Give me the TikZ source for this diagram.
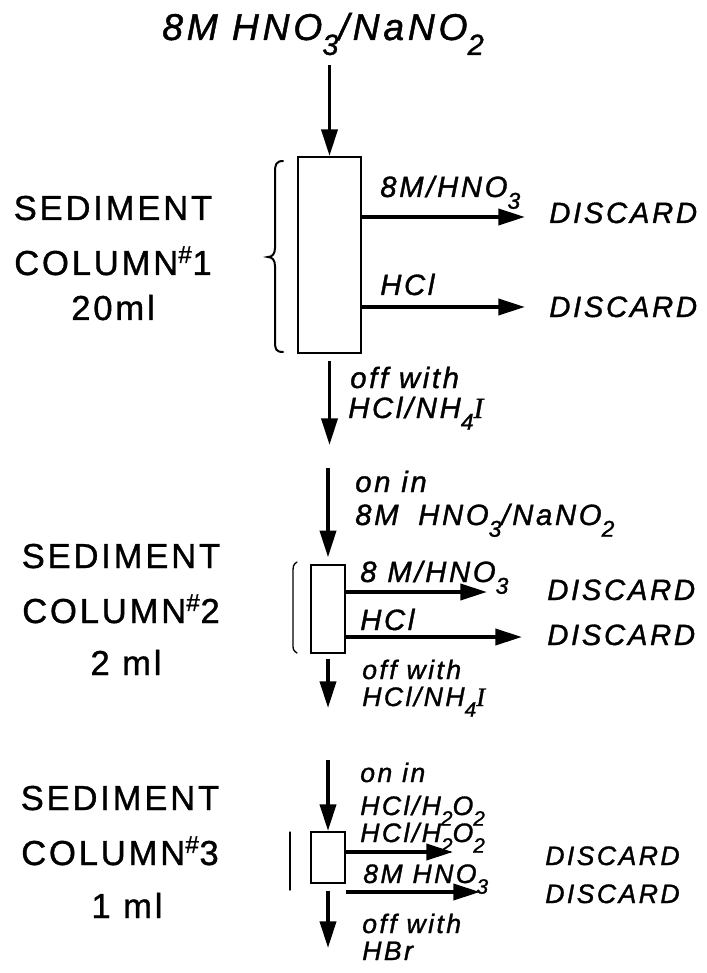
\documentclass[tikz,border=0pt]{standalone}
\usepackage{fontspec}
\usepackage{graphicx}
\usetikzlibrary{arrows.meta}
\newfontfamily\titlefont{Liberation Sans}[LetterSpace=10,FakeBold=1.2]
\newfontfamily\labfont{Liberation Sans}[LetterSpace=9,FakeBold=1.2]
\newfontfamily\sedfont{Liberation Sans}[LetterSpace=8,FakeBold=1]
\newfontfamily\serI{Liberation Serif}[FakeBold=1]
\newcommand\chsub[1]{\raisebox{-0.4em}{\scalebox{0.78}{#1}}}
\newcommand\serifI{{\serI\itshape I}}
\tikzset{
 flow/.style={line width=2.8pt, -{Triangle[length=20pt,width=12pt]}},
 colbox/.style={draw, line width=1.5pt, inner sep=0pt},
 lab/.style={font=\labfont\itshape\fontsize{22}{26}\selectfont, inner sep=0pt, anchor=base west},
 labs/.style={lab, font=\labfont\itshape\fontsize{20}{24}\selectfont},
 biglab/.style={lab, font=\titlefont\itshape\fontsize{28}{32}\selectfont},
 sed/.style={font=\sedfont\fontsize{26}{30}\selectfont, inner sep=0pt, anchor=base},
 brace/.style={line width=1.5pt, line cap=round},
 bar/.style={line width=1pt, line cap=round},
}
\begin{document}
\begin{tikzpicture}[x=0.75pt,y=-0.75pt]
\useasboundingbox (0,0) rectangle (706,973);
% ---------- section 1
\node[biglab] (title) at (162,40) {8M HNO\chsub{3}/NaNO\chsub{2}};
\node[colbox, minimum width=47.25pt, minimum height=147pt] (c1) at (329.5,255) {};
\coordinate (t1) at (329.5,65);
\draw[flow] (t1) -- (c1.north);
\coordinate (e1a) at (525,217);
\coordinate (e1b) at (525,307);
\draw[flow] (c1.east |- e1a) -- (e1a);
\draw[flow] (c1.east |- e1b) -- (e1b);
\coordinate (o1) at (329.5,445);
\draw[flow] ([yshift=-5pt]c1.south) -- (o1);
\node[lab] (l1a) at (380,197) {8M/HNO\chsub{3}};
\node[lab] (d1a) at (549,223) {DISCARD};
\node[lab] (l1b) at (380,295) {HCl};
\node[lab] (d1b) at (549,317) {DISCARD};
\node[lab] (l1c) at (350,388) {off with};
\node[lab] (l1d) at (348,418) {HCl/NH\chsub{4}\serifI};
\draw[brace] (283,161) .. controls (276,161) and (275,165) .. (275,172) -- (275,248)
  .. controls (275,254) and (272,257) .. (268,257)
  .. controls (272,257) and (275,260) .. (275,266) -- (275,342)
  .. controls (275,349) and (276,352) .. (283,352);
\node[sed] (s1a) at (113,220) {SEDIMENT};
\node[sed] (s1b) at (113,275) {COLUMN\textsuperscript{\#}1};
\node[sed] (s1c) at (113,320) {20ml};
% ---------- section 2
\node[colbox, minimum width=25.5pt, minimum height=66pt] (c2) at (328,609) {};
\coordinate (t2) at (328,468);
\draw[flow] (t2) -- ([yshift=5pt]c2.north);
\coordinate (e2a) at (487,592);
\coordinate (e2b) at (522,637);
\draw[flow] (c2.east |- e2a) -- (e2a);
\draw[flow] (c2.east |- e2b) -- (e2b);
\coordinate (o2) at (328,708);
\draw[flow] ([yshift=-4pt]c2.south) -- (o2);
\node[lab] (l2a) at (355,492) {on in};
\node[lab] (l2b) at (355,525) {8M\hspace{0.3em} HNO\chsub{3}/NaNO\chsub{2}};
\node[lab] (l2c) at (360,582) {8 M/HNO\chsub{3}};
\node[lab] (l2d) at (360,630) {HCl};
\node[lab] (d2a) at (547,600) {DISCARD};
\node[lab] (d2b) at (547,645) {DISCARD};
\node[labs] (l2e) at (362,679) {off with};
\node[labs] (l2f) at (362,706) {HCl/NH\chsub{4}\serifI};
\draw[bar] (297,562) .. controls (293,565) .. (293,575) -- (293,643) .. controls (293,650) .. (297,653);
\node[sed] (s2a) at (121,568) {SEDIMENT};
\node[sed] (s2b) at (121,623) {COLUMN\textsuperscript{\#}2};
\node[sed] (s2c) at (126,675) {2 ml};
% ---------- section 3
\node[colbox, minimum width=25.5pt, minimum height=38.25pt] (c3) at (328,857.5) {};
\coordinate (t3) at (328,760);
\draw[flow] (t3) -- (c3.north);
\coordinate (e3a) at (453,852);
\coordinate (e3b) at (480,892);
\draw[flow] (c3.east |- e3a) -- (e3a);
\draw[flow] (c3.east |- e3b) -- (e3b);
\coordinate (o3) at (328,948);
\draw[flow] ([yshift=-5pt]c3.south) -- (o3);
\node[labs] (l3a) at (360,782) {on in};
\node[labs] (l3b) at (360,815) {HCl/H\chsub{2}O\chsub{2}};
\node[labs] (l3c) at (360,842) {HCl/H\chsub{2}O\chsub{2}};
\node[labs] (l3d) at (363,883) {8M HNO\chsub{3}};
\node[labs] (d3a) at (545,865) {DISCARD};
\node[labs] (d3b) at (545,903) {DISCARD};
\node[labs] (l3e) at (362,933) {off with};
\node[labs] (l3f) at (362,960) {HBr};
\draw[bar] (290,832) -- (290,890);
\node[sed] (s3a) at (120,810) {SEDIMENT};
\node[sed] (s3b) at (120,865) {COLUMN\textsuperscript{\#}3};
\node[sed] (s3c) at (127,918) {1 ml};
\end{tikzpicture}
\end{document}
